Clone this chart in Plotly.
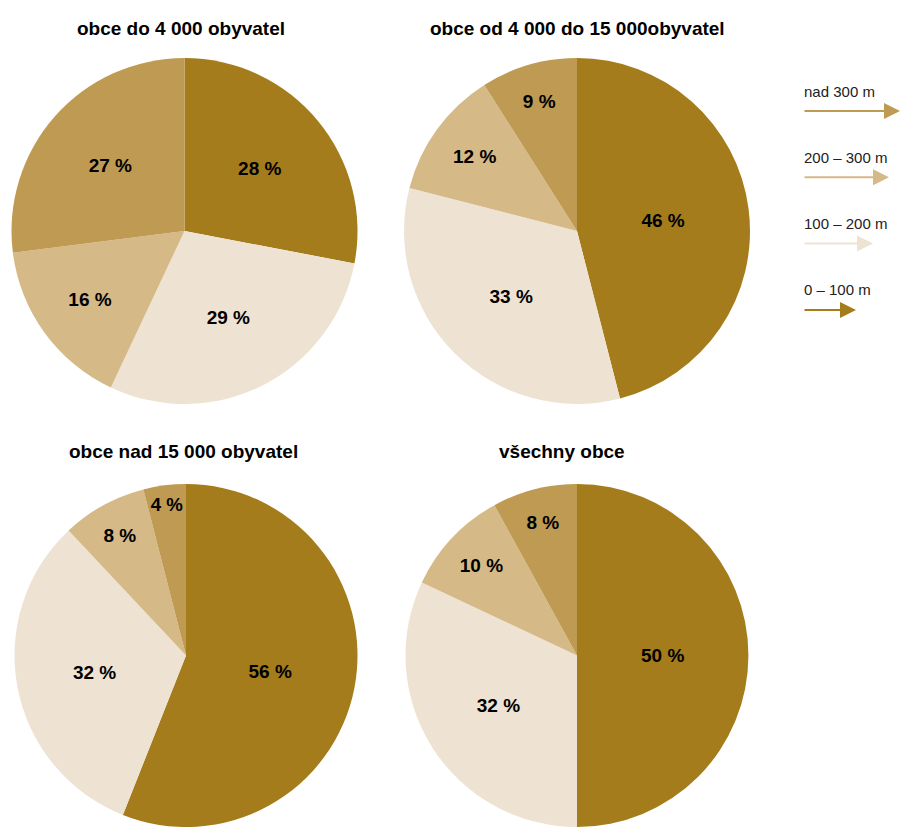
import plotly.graph_objects as go

categories = ["0 – 100 m", "100 – 200 m", "200 – 300 m", "nad 300 m"]
colors = ["#A57C1B", "#EEE3D3", "#D5B987", "#BE9A52"]

titles = ["obce do 4 000 obyvatel", "obce od 4 000 do 15 000obyvatel",
          "obce nad 15 000 obyvatel", "všechny obce"]
v_small = [28, 29, 16, 27]
v_mid = [46, 33, 12, 9]
v_large = [56, 32, 8, 4]
v_all = [50, 32, 10, 8]
series = [v_small, v_mid, v_large, v_all]

legend_labels = ["nad 300 m", "200 – 300 m", "100 – 200 m", "0 – 100 m"]
legend_colors = ["#BE9A52", "#D5B987", "#EEE3D3", "#A57C1B"]
legend_arrow_len = [98, 86, 70, 53]

W, H = 901, 827
FONT = "Liberation Sans, Arial, sans-serif"

domains = [
    dict(x=[11 / W, 358 / W], y=[1 - 404 / H, 1 - 58 / H]),
    dict(x=[404 / W, 750 / W], y=[1 - 404 / H, 1 - 58 / H]),
    dict(x=[14 / W, 358 / W], y=[0.0, 1 - 484 / H]),
    dict(x=[405 / W, 749 / W], y=[0.0, 1 - 484 / H]),
]
title_pos = [(181, 28), (577, 28), (183, 451), (562, 451)]

fig = go.Figure()
for vals, dom in zip(series, domains):
    fig.add_trace(go.Pie(
        labels=categories, values=vals, domain=dom,
        sort=False, direction="clockwise", rotation=0,
        marker=dict(colors=colors, line=dict(width=0)),
        texttemplate="<b>%{value} %</b>", textinfo="text",
        textposition="inside", insidetextorientation="horizontal",
        textfont=dict(family=FONT, size=19, color="black"),
        hoverinfo="label+value", showlegend=False,
    ))

annotations = []
for t, (px, py) in zip(titles, title_pos):
    annotations.append(dict(
        text=f"<b>{t}</b>", x=px / W, y=1 - py / H, xref="paper", yref="paper",
        xanchor="center", yanchor="middle", showarrow=False,
        font=dict(family=FONT, size=19, color="black")))

for i, (lab, col, ln) in enumerate(zip(legend_labels, legend_colors, legend_arrow_len)):
    ty = 91 + i * 66.3
    ay = 111 + i * 66.3
    annotations.append(dict(
        text=lab, x=802 / W, y=1 - ty / H, xref="paper", yref="paper",
        xanchor="left", yanchor="middle", showarrow=False,
        font=dict(family=FONT, size=15, color="#222")))
    annotations.append(dict(
        text="", x=(803 + ln) / W, y=1 - ay / H, xref="paper", yref="paper",
        showarrow=True, ax=-ln, ay=0, axref="pixel", ayref="pixel",
        arrowhead=2, arrowsize=1.6, arrowwidth=2, arrowcolor=col,
        standoff=0, startstandoff=0))

fig.update_layout(
    width=W, height=H, margin=dict(l=0, r=0, t=0, b=0),
    paper_bgcolor="white", plot_bgcolor="white",
    annotations=annotations,
)
fig.write_html("out.html")
